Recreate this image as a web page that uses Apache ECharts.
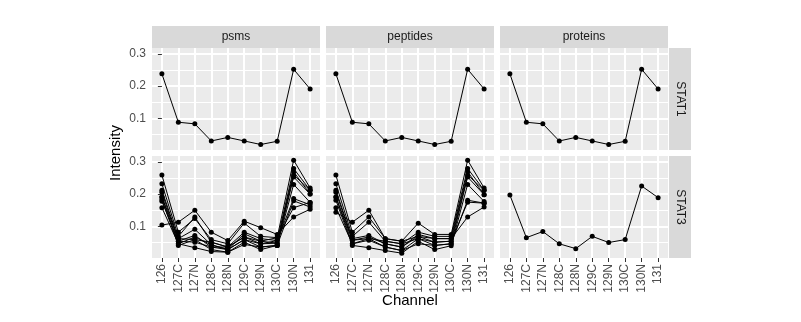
<!DOCTYPE html>
<html><head><meta charset="utf-8">
<script src="https://cdn.jsdelivr.net/npm/echarts@6/dist/echarts.min.js"></script>
<style>html,body{margin:0;padding:0;background:#fff}#c{width:801px;height:322px}</style>
</head><body><div id="c"></div>
<script>
// ---- data ----
const channels = ['126','127C','127N','128C','128N','129C','129N','130C','130N','131'];
const facetCols = ['psms','peptides','proteins'];
const facetRows = ['STAT1','STAT3'];
const yTickValues = [0.1, 0.2, 0.3];
const yMinorValues = [0.05, 0.15, 0.25];

const stat1Psms     = [0.238, 0.088, 0.083, 0.030, 0.041, 0.030, 0.019, 0.029, 0.252, 0.191];
const stat1Peptides = [0.238, 0.088, 0.083, 0.030, 0.041, 0.030, 0.019, 0.029, 0.252, 0.191];
const stat1Proteins = [0.238, 0.088, 0.083, 0.030, 0.041, 0.030, 0.019, 0.029, 0.252, 0.191];

const stat3Psms = [
  [0.259, 0.082, 0.124, 0.059, 0.046, 0.110, 0.069, 0.065, 0.305, 0.219],
  [0.232, 0.069, 0.129, 0.051, 0.036, 0.082, 0.062, 0.056, 0.279, 0.212],
  [0.212, 0.062, 0.091, 0.043, 0.028, 0.077, 0.054, 0.048, 0.269, 0.200],
  [0.206, 0.054, 0.072, 0.036, 0.036, 0.067, 0.046, 0.048, 0.259, 0.212],
  [0.191, 0.046, 0.067, 0.043, 0.028, 0.059, 0.036, 0.041, 0.253, 0.200],
  [0.183, 0.041, 0.059, 0.028, 0.020, 0.051, 0.028, 0.041, 0.230, 0.174],
  [0.178, 0.054, 0.051, 0.036, 0.028, 0.059, 0.046, 0.056, 0.186, 0.167],
  [0.158, 0.046, 0.034, 0.022, 0.020, 0.044, 0.036, 0.041, 0.179, 0.160],
  [0.191, 0.062, 0.059, 0.051, 0.036, 0.067, 0.054, 0.065, 0.158, 0.174],
  [0.104, 0.113, 0.150, 0.082, 0.056, 0.116, 0.096, 0.075, 0.129, 0.153]
];
const stat3Peptides = [
  [0.259, 0.082, 0.129, 0.062, 0.054, 0.110, 0.075, 0.075, 0.305, 0.219],
  [0.232, 0.069, 0.113, 0.054, 0.046, 0.082, 0.069, 0.069, 0.279, 0.212],
  [0.212, 0.062, 0.072, 0.046, 0.036, 0.075, 0.062, 0.062, 0.269, 0.198],
  [0.206, 0.057, 0.067, 0.046, 0.036, 0.069, 0.051, 0.054, 0.259, 0.212],
  [0.191, 0.046, 0.057, 0.036, 0.025, 0.062, 0.041, 0.046, 0.253, 0.198],
  [0.181, 0.041, 0.034, 0.025, 0.017, 0.054, 0.028, 0.040, 0.230, 0.177],
  [0.158, 0.046, 0.062, 0.036, 0.025, 0.046, 0.041, 0.046, 0.181, 0.172],
  [0.144, 0.113, 0.150, 0.062, 0.054, 0.069, 0.062, 0.062, 0.129, 0.160],
  [0.191, 0.057, 0.062, 0.054, 0.046, 0.062, 0.051, 0.054, 0.175, 0.172]
];
const stat3Proteins = [0.197, 0.065, 0.084, 0.046, 0.031, 0.069, 0.050, 0.059, 0.225, 0.189];

// ---- layout ----
const FONT = 'Liberation Sans, Arial, Helvetica, sans-serif';
const panelLeft = [152, 326, 500];
const panelTop = [48, 156];
const PW = 168, PH = 102;
const Y_MIN = 0.002, Y_MAX = 0.318;

const panelData = [
  [[stat1Psms], [stat1Peptides], [stat1Proteins]],
  [stat3Psms, stat3Peptides, [stat3Proteins]]
];

const grids = [], xAxes = [], yAxes = [], series = [];
const channelIdx = channels.map((_, i) => i);

for (let r = 0; r < 2; r++) {
  for (let c = 0; c < 3; c++) {
    const g = r * 3 + c;
    grids.push({
      left: panelLeft[c], top: panelTop[r], width: PW, height: PH,
      show: true, backgroundColor: '#EBEBEB', borderWidth: 0,
      containLabel: false, outerBoundsMode: 'none'
    });
    const bottomRow = r === 1;
    xAxes.push({
      type: 'value', gridIndex: g, min: -0.6, max: channels.length - 0.4,
      axisLine: { show: false },
      axisTick: { show: bottomRow, customValues: channelIdx, length: 4, lineStyle: { color: '#333333', width: 1 } },
      axisLabel: {
        show: bottomRow, customValues: channelIdx, rotate: 90, margin: 6,
        color: '#4D4D4D', fontSize: 12, fontFamily: FONT,
        formatter: v => channels[Math.round(v)]
      },
      splitLine: { show: true, lineStyle: { color: '#FFFFFF', width: 2 } }
    });
    const leftCol = c === 0;
    yAxes.push({
      type: 'value', gridIndex: g, min: Y_MIN, max: Y_MAX, position: 'left',
      axisLine: { show: false },
      axisTick: { show: leftCol, customValues: yTickValues, length: 4, lineStyle: { color: '#333333', width: 1 } },
      axisLabel: {
        show: leftCol, customValues: yTickValues, margin: 6,
        color: '#4D4D4D', fontSize: 12, fontFamily: FONT,
        formatter: v => v.toFixed(1)
      },
      splitLine: { show: true, lineStyle: { color: '#FFFFFF', width: 2 } }
    });
    yAxes.push({
      type: 'value', gridIndex: g, min: Y_MIN, max: Y_MAX, position: 'right',
      axisLine: { show: false },
      axisTick: { show: false, customValues: yMinorValues },
      axisLabel: { show: false, customValues: yMinorValues },
      splitLine: { show: true, lineStyle: { color: '#FFFFFF', width: 1 } }
    });
    panelData[r][c].forEach(vals => {
      series.push({
        type: 'line', xAxisIndex: g, yAxisIndex: 2 * g,
        data: vals.map((v, i) => [i, v]),
        symbol: 'circle', symbolSize: 5, showSymbol: true,
        itemStyle: { color: '#000000' },
        lineStyle: { color: '#000000', width: 1 },
        silent: true, animation: false, z: 3
      });
    });
  }
}

// strips and axis titles
const graphics = [];
for (let c = 0; c < 3; c++) {
  graphics.push({ type: 'rect', shape: { x: panelLeft[c], y: 26, width: PW, height: 22 }, style: { fill: '#D9D9D9' } });
  graphics.push({ type: 'text', x: panelLeft[c] + PW / 2, y: 37,
    style: { text: facetCols[c], fill: '#1A1A1A', font: '12px ' + FONT, align: 'center', verticalAlign: 'middle' } });
}
for (let r = 0; r < 2; r++) {
  graphics.push({ type: 'rect', shape: { x: 669, y: panelTop[r], width: 22, height: PH }, style: { fill: '#D9D9D9' } });
  graphics.push({ type: 'text', x: 680, y: panelTop[r] + PH / 2, rotation: -Math.PI / 2,
    style: { text: facetRows[r], fill: '#1A1A1A', font: '12px ' + FONT, align: 'center', verticalAlign: 'middle' } });
}
graphics.push({ type: 'text', x: 116, y: 153, rotation: Math.PI / 2,
  style: { text: 'Intensity', fill: '#000000', font: '15px ' + FONT, align: 'center', verticalAlign: 'middle' } });
graphics.push({ type: 'text', x: 410, y: 301,
  style: { text: 'Channel', fill: '#000000', font: '15px ' + FONT, align: 'center', verticalAlign: 'middle' } });

const chart = echarts.init(document.getElementById('c'), null, { renderer: 'canvas' });
chart.setOption({
  animation: false,
  backgroundColor: '#FFFFFF',
  grid: grids, xAxis: xAxes, yAxis: yAxes, series: series,
  graphic: graphics
});
</script></body></html>
